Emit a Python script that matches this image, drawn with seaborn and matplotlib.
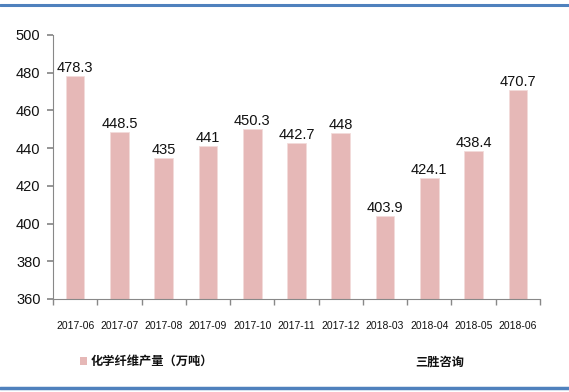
import matplotlib
matplotlib.use("Agg")
import matplotlib.pyplot as plt
import seaborn as sns
import pandas as pd
from matplotlib.lines import Line2D
from matplotlib.patches import Rectangle

months = ["2017-06", "2017-07", "2017-08", "2017-09", "2017-10", "2017-11",
          "2017-12", "2018-03", "2018-04", "2018-05", "2018-06"]
values = [478.3, 448.5, 435, 441, 450.3, 442.7, 448, 403.9, 424.1, 438.4, 470.7]
labels = ["478.3", "448.5", "435", "441", "450.3", "442.7", "448", "403.9", "424.1", "438.4", "470.7"]
series_name = "化学纤维产量（万吨）"
source = "三胜咨询"

sns.set_theme(style="white")
plt.rcParams['font.family'] = ['Noto Sans CJK SC', 'DejaVu Sans']

df = pd.DataFrame({"month": months, "value": values})

fig = plt.figure(figsize=(5.69, 3.92), dpi=100)
ax = fig.add_axes([53/569, 1-299/392, (540-53)/569, (299-35)/392])

sns.barplot(data=df, x="month", y="value", color="#E6B8B7", saturation=1,
            width=0.42, ax=ax, edgecolor="#F2DCDB", linewidth=0.6)

ax.set_ylim(360, 500)
ax.set_yticks(range(360, 501, 20))
ax.set_xlim(-0.5, len(months) - 0.5)
ax.set_xlabel("")
ax.set_ylabel("")

for i, (v, t) in enumerate(zip(values, labels)):
    ax.text(i, v + 0.5, t, ha="center", va="bottom", fontsize=10.5, color="#111111",
            family="Liberation Sans")

for s in ["top", "right"]:
    ax.spines[s].set_visible(False)
for s in ["left", "bottom"]:
    ax.spines[s].set_color("#888888")
    ax.spines[s].set_linewidth(0.8)

ax.tick_params(axis="y", which="both", left=True, length=4, color="#888888",
               labelsize=10.5, pad=5, labelcolor="#111111")
ax.set_yticklabels([str(t) for t in range(360, 501, 20)], family="Liberation Sans")
ax.tick_params(axis="x", bottom=False, labelsize=7.5, pad=10, labelcolor="#111111")
ax.set_xticks(range(len(months)))
ax.set_xticklabels(months, family="Liberation Sans")
# category boundary tick marks
ax.set_xticks([i - 0.5 for i in range(len(months) + 1)], minor=True)
ax.tick_params(axis="x", which="minor", bottom=True, length=4, color="#888888")

# legend
fig.patches.append(Rectangle((80/569, 1-365/392), 7/569, 8/392, transform=fig.transFigure,
                             facecolor="#E6B8B7", edgecolor="none"))
fig.text(91/569, 1-361/392, series_name, fontsize=8.8, fontweight="bold", va="center",
         ha="left", color="#111111")
fig.text(415/569, 1-362/392, source, fontsize=8.8, fontweight="bold", va="center",
         ha="left", color="#111111")

# blue frame lines
fig.add_artist(Line2D([0, 1], [1-5/392, 1-5/392], transform=fig.transFigure,
                      color="#4F81BD", linewidth=2.2))
fig.add_artist(Line2D([0, 1], [1-388/392, 1-388/392], transform=fig.transFigure,
                      color="#4F81BD", linewidth=2.5))

fig.savefig("out.png", dpi=100)
